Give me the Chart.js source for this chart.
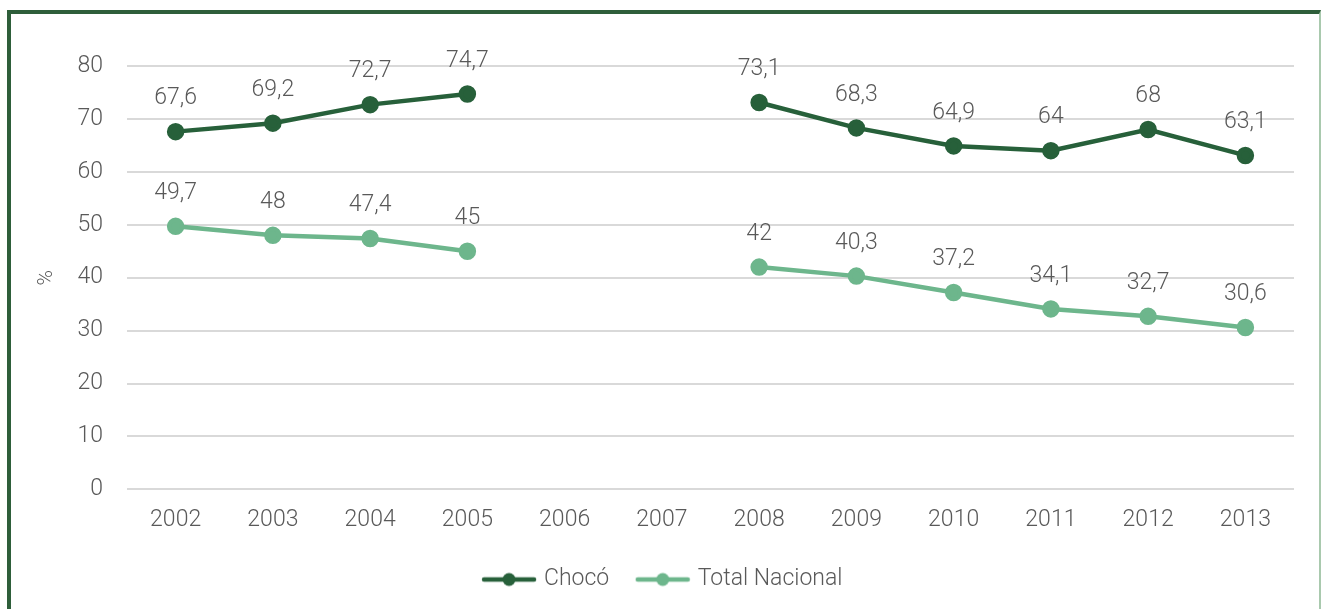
<!DOCTYPE html>
<html><head><meta charset="utf-8">
<script src="https://cdn.jsdelivr.net/npm/chart.js@4/dist/chart.umd.min.js"></script>
<style>
html,body{margin:0;padding:0;background:#fff;width:1321px;height:609px;overflow:hidden;}
#frame{position:absolute;left:7px;top:10px;width:1308px;height:620px;border-left:4px solid #2e5e3a;border-top:4px solid #2e5e3a;border-right:2px solid #a9c9ae;}
#wrap{position:absolute;left:0;top:0;width:1321px;height:609px;}
</style></head><body>
<div id="frame"></div>
<div id="wrap"><canvas id="c" width="1321" height="609"></canvas></div>
<script>
const years = ["2002","2003","2004","2005","2006","2007","2008","2009","2010","2011","2012","2013"];
const choco = [67.6, 69.2, 72.7, 74.7, null, null, 73.1, 68.3, 64.9, 64, 68, 63.1];
const nacional = [49.7, 48, 47.4, 45, null, null, 42, 40.3, 37.2, 34.1, 32.7, 30.6];
const yTicks = [0,10,20,30,40,50,60,70,80];

const darkGreen = '#27603a';
const lightGreen = '#6db68c';
const FONT = 'Roboto, "Liberation Sans", sans-serif';
const FS = 23;

function legendIcon(color){
  const c = document.createElement('canvas');
  c.width = 56; c.height = 16;
  const x = c.getContext('2d');
  x.strokeStyle = color; x.lineWidth = 4.5; x.lineCap = 'round';
  x.beginPath(); x.moveTo(3,8); x.lineTo(53,8); x.stroke();
  x.fillStyle = color; x.beginPath(); x.arc(28,8,6.5,0,Math.PI*2); x.fill();
  return c;
}
const icons = [legendIcon(darkGreen), legendIcon(lightGreen)];

const labelPlugin = {
  id: 'pointLabels',
  afterDatasetsDraw(chart){
    const ctx = chart.ctx;
    ctx.save();
    ctx.font = '300 ' + FS + 'px ' + FONT;
    ctx.fillStyle = '#595959';
    ctx.textAlign = 'center';
    ctx.textBaseline = 'middle';
    chart.data.datasets.forEach((ds, i) => {
      const meta = chart.getDatasetMeta(i);
      meta.data.forEach((pt, j) => {
        const v = ds.data[j];
        if (v === null || v === undefined) return;
        ctx.fillText(String(v).replace('.', ','), pt.x, pt.y - 33);
      });
    });
    ctx.restore();
  }
};

new Chart(document.getElementById('c'), {
  type: 'line',
  data: {
    labels: years,
    datasets: [
      {label: 'Chocó', data: choco, borderColor: darkGreen, backgroundColor: darkGreen,
       borderWidth: 4.5, pointRadius: 6.5, pointHoverRadius: 6.5, spanGaps: false, tension: 0},
      {label: 'Total Nacional', data: nacional, borderColor: lightGreen, backgroundColor: lightGreen,
       borderWidth: 4.5, pointRadius: 6.5, pointHoverRadius: 6.5, spanGaps: false, tension: 0}
    ]
  },
  options: {
    responsive: false,
    animation: false,
    layout: {padding: {left: 34, right: 27, top: 66, bottom: 8}},
    plugins: {
      tooltip: {enabled: false},
      legend: {
        position: 'bottom',
        labels: {
          usePointStyle: true,
          pointStyleWidth: 47,
          boxHeight: 16,
          padding: 30,
          color: '#595959',
          font: {family: FONT, size: FS, weight: '300'},
          generateLabels(chart){
            const items = Chart.defaults.plugins.legend.labels.generateLabels(chart);
            items.forEach((it, i) => { it.pointStyle = icons[i]; });
            return items;
          }
        }
      }
    },
    scales: {
      x: {
        offset: true,
        afterFit(scale){ scale.height = scale.height - 13; },
        grid: {display: false, drawTicks: false},
        border: {display: false},
        ticks: {color: '#595959', padding: 17, font: {family: FONT, size: FS, weight: '300'}}
      },
      y: {
        min: 0, max: 80,
        afterBuildTicks(scale){ scale.ticks = yTicks.map(v => ({value: v})); },
        afterFit(scale){ scale.width = 93; },
        grid: {color: '#d9d9d9', lineWidth: 2, drawTicks: false},
        border: {display: false},
        title: {display: true, text: '%', color: '#595959', padding: 0, font: {family: FONT, size: 21, weight: '300'}},
        ticks: {color: '#595959', padding: 24, font: {family: FONT, size: FS, weight: '300'}}
      }
    }
  },
  plugins: [labelPlugin]
});
</script>
</body></html>
